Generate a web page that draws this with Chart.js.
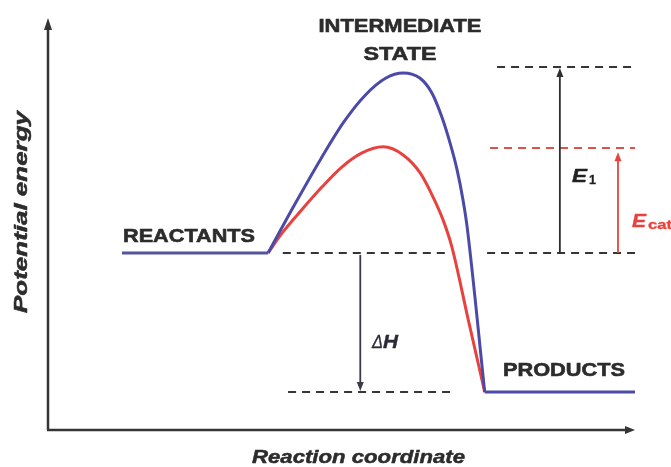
<!DOCTYPE html>
<html>
<head>
<meta charset="utf-8">
<script src="https://cdn.jsdelivr.net/npm/chart.js@4/dist/chart.umd.min.js"></script>
<style>
  html, body { margin: 0; padding: 0; background: #ffffff; }
  #wrap { width: 671px; height: 467px; }
</style>
</head>
<body>
<div id="wrap"><canvas id="c" width="671" height="467"></canvas></div>
<script>
// ---- Data (reaction coordinate 0..100, potential energy 0..100) ----
const reactantLevel = 43.4;
const productLevel = 9.3;
const uncatPeakLevel = 89.0;   // E1 dashed level
const catPeakLevel = 69.1;     // Ecat dashed level

const reactantX = [12.6, 37.5];
const productX = [74.4, 100];

const blueX = [37.5, 42.0, 46.5, 50.4, 54.0, 57.5, 60.5, 63.4, 65.4, 67.1, 68.5, 69.7, 70.7, 71.4, 74.4];
const blueY = [43.4, 55.2, 66.5, 75.5, 82.0, 86.2, 87.5, 86.2, 82.6, 76.7, 70.3, 63.7, 56.4, 49.8, 9.3];

const redX = [37.5, 39.9, 43.3, 46.7, 50.1, 53.5, 57.1, 60.5, 63.4, 65.6, 67.3, 68.8, 71.6, 74.4];
const redY = [43.4, 48.3, 54.1, 59.6, 64.5, 67.9, 69.4, 67.4, 63.0, 57.1, 51.5, 44.9, 27.0, 9.3];

const dashE1X = [76.5, 100];
const dashEcatX = [75.3, 100];
const dashReactA = [40.0, 68.0];
const dashReactB = [74.8, 100];
const dashProdX = [40.9, 69.3];

const arrowDeltaHX = 53.2;
const arrowE1X = 87.2;
const arrowEcatX = 97.1;
const arrowEcatTop = 68.1;

const labelTexts = {
  top1: 'INTERMEDIATE',
  top2: 'STATE',
  reactants: 'REACTANTS',
  products: 'PRODUCTS',
  xTitle: 'Reaction coordinate',
  yTitle: 'Potential energy',
  e: 'E',
  one: '1',
  cat: 'cat',
  delta: 'Δ',
  h: 'H'
};

// ---- helpers ----
const pts = (xs, ys) => xs.map((x, i) => ({ x: x, y: Array.isArray(ys) ? ys[i] : ys }));

const BLUE = '#4b4aa8';
const RED = '#e8423f';
const DARK = '#353535';
const FONT = '"Liberation Sans", Arial, Helvetica, sans-serif';

function dashed(xs, level, color) {
  return {
    data: pts(xs, level),
    borderColor: color,
    borderWidth: 2,
    borderDash: [8, 6],
    pointRadius: 0,
    tension: 0,
    order: 5
  };
}

function drawText(ctx, text, x, y, font, color, targetW, align, thick) {
  ctx.save();
  ctx.font = font;
  ctx.textAlign = align || 'left';
  ctx.textBaseline = 'alphabetic';
  const w = ctx.measureText(text).width;
  const s = targetW ? targetW / w : 1;
  ctx.translate(x, y);
  ctx.scale(s, 1);
  ctx.fillStyle = color;
  ctx.fillText(text, 0, 0);
  if (thick) {
    ctx.strokeStyle = color;
    ctx.lineWidth = thick;
    ctx.lineJoin = 'round';
    ctx.strokeText(text, 0, 0);
  }
  ctx.restore();
}

function arrow(ctx, x, y1, y2, color, width) {
  const dir = y2 > y1 ? 1 : -1;
  ctx.save();
  ctx.strokeStyle = color;
  ctx.fillStyle = color;
  ctx.lineWidth = width;
  ctx.beginPath();
  ctx.moveTo(x, y1);
  ctx.lineTo(x, y2 - dir * 6);
  ctx.stroke();
  ctx.beginPath();
  ctx.moveTo(x, y2);
  ctx.lineTo(x - 3.5, y2 - dir * 9);
  ctx.lineTo(x + 3.5, y2 - dir * 9);
  ctx.closePath();
  ctx.fill();
  ctx.restore();
}

const decor = {
  id: 'decor',
  beforeDatasetsDraw(chart) {
    const ctx = chart.ctx;
    const a = chart.chartArea;
    ctx.save();
    ctx.strokeStyle = DARK;
    ctx.fillStyle = DARK;
    ctx.lineWidth = 2.5;
    ctx.beginPath();
    ctx.moveTo(a.left, a.bottom);
    ctx.lineTo(a.left, a.top + 6);
    ctx.stroke();
    ctx.beginPath();
    ctx.moveTo(a.left, a.top - 4);
    ctx.lineTo(a.left - 4, a.top + 8);
    ctx.lineTo(a.left + 4, a.top + 8);
    ctx.closePath();
    ctx.fill();
    ctx.beginPath();
    ctx.moveTo(a.left - 1, a.bottom);
    ctx.lineTo(a.right - 6, a.bottom);
    ctx.stroke();
    ctx.beginPath();
    ctx.moveTo(a.right, a.bottom);
    ctx.lineTo(a.right - 10, a.bottom - 4);
    ctx.lineTo(a.right - 10, a.bottom + 4);
    ctx.closePath();
    ctx.fill();
    ctx.restore();
  },
  afterDatasetsDraw(chart) {
    const ctx = chart.ctx;
    const xs = chart.scales.x, ys = chart.scales.y;
    const px = v => xs.getPixelForValue(v);
    const py = v => ys.getPixelForValue(v);

    arrow(ctx, px(arrowDeltaHX), py(reactantLevel) + 2, py(productLevel) - 1, '#3a3a4a', 1.8);
    arrow(ctx, px(arrowE1X), py(reactantLevel), py(uncatPeakLevel) + 1, '#2e2e2e', 1.8);
    arrow(ctx, px(arrowEcatX), py(reactantLevel), py(arrowEcatTop), RED, 1.8);

    const B = 'bold 19px ' + FONT;
    const BI = 'italic bold 19px ' + FONT;
    const TXT = '#2c2c2c';

    drawText(ctx, labelTexts.top1, 400, 32, B, TXT, 163, 'center', 0.6);
    drawText(ctx, labelTexts.top2, 400, 60, B, TXT, 73, 'center', 0.6);
    drawText(ctx, labelTexts.reactants, 123, 242, B, TXT, 132, 'left', 0.6);
    drawText(ctx, labelTexts.products, 503, 376, B, TXT, 122, 'left', 0.6);
    drawText(ctx, labelTexts.xTitle, 252, 463, BI, TXT, 213, 'left', 0.5);

    ctx.save();
    ctx.translate(27, 212);
    ctx.rotate(-Math.PI / 2);
    drawText(ctx, labelTexts.yTitle, 0, 0, BI, TXT, 202, 'center', 0.5);
    ctx.restore();

    drawText(ctx, labelTexts.e, 572, 182, BI, '#222222', 15, 'left', 0.4);
    drawText(ctx, labelTexts.one, 589, 184, 'bold 13px ' + FONT, '#222222', 7, 'left', 0.3);
    drawText(ctx, labelTexts.e, 632, 227, BI, RED, 14, 'left', 0.4);
    drawText(ctx, labelTexts.cat, 648, 229, 'bold 13px ' + FONT, RED, 24, 'left', 0.3);
    drawText(ctx, labelTexts.delta, 372, 348, 'italic 18px ' + FONT, '#2a2a3a', 11, 'left', 0.3);
    drawText(ctx, labelTexts.h, 383, 348, BI, '#2a2a3a', 15, 'left', 0.4);
  }
};

new Chart(document.getElementById('c'), {
  type: 'line',
  data: {
    datasets: [
      dashed(dashE1X, uncatPeakLevel, DARK),
      dashed(dashEcatX, catPeakLevel, '#e0504c'),
      dashed(dashReactA, reactantLevel, DARK),
      dashed(dashReactB, reactantLevel, DARK),
      dashed(dashProdX, productLevel, DARK),
      {
        data: pts(reactantX, reactantLevel),
        borderColor: '#55559e',
        borderWidth: 3,
        pointRadius: 0,
        tension: 0,
        order: 2
      },
      {
        data: pts(productX, productLevel),
        borderColor: BLUE,
        borderWidth: 3,
        pointRadius: 0,
        tension: 0,
        order: 2
      },
      {
        data: pts(redX, redY),
        borderColor: RED,
        borderWidth: 3,
        pointRadius: 0,
        cubicInterpolationMode: 'monotone',
        order: 1
      },
      {
        data: pts(blueX, blueY),
        borderColor: BLUE,
        borderWidth: 3,
        pointRadius: 0,
        cubicInterpolationMode: 'monotone',
        order: 0
      }
    ]
  },
  options: {
    responsive: false,
    animation: false,
    events: [],
    layout: { padding: { left: 48, right: 36, top: 22, bottom: 37 } },
    scales: {
      x: { type: 'linear', min: 0, max: 100, display: false },
      y: { type: 'linear', min: 0, max: 100, display: false }
    },
    plugins: {
      legend: { display: false },
      tooltip: { enabled: false }
    }
  },
  plugins: [decor]
});
</script>
</body>
</html>
